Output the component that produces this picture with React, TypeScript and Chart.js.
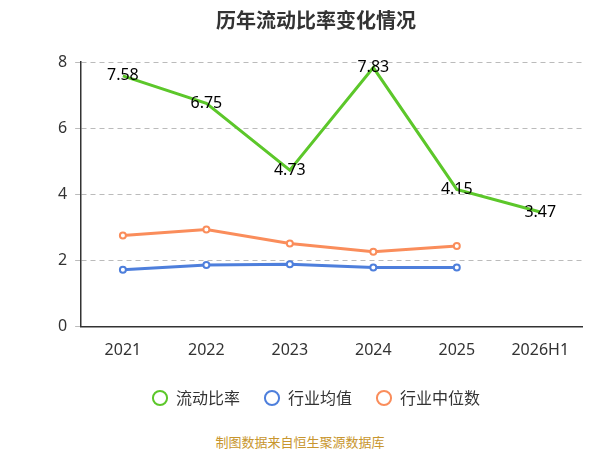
import React, { useEffect, useRef } from "react";
import { Chart, registerables } from "chart.js";
Chart.register(...registerables);

const categories = ["2021", "2022", "2023", "2024", "2025", "2026H1"];
const currentRatio = [7.58, 6.75, 4.73, 7.83, 4.15, 3.47];
const industryMean = [1.72, 1.87, 1.89, 1.79, 1.79, null];
const industryMedian = [2.76, 2.94, 2.52, 2.27, 2.44, null];

const labelPlugin = {
  id: "labels",
  afterDatasetsDraw(chart: any) {
    const ctx = chart.ctx;
    const meta = chart.getDatasetMeta(0);
    ctx.save();
    ctx.font = "16px 'Noto Sans', sans-serif";
    ctx.fillStyle = "#000";
    ctx.textAlign = "center";
    ctx.textBaseline = "middle";
    meta.data.forEach((pt: any, i: number) => {
      ctx.fillText(currentRatio[i].toFixed(2), pt.x, pt.y);
    });
    ctx.restore();
  },
};

export default function App() {
  const ref = useRef<HTMLCanvasElement>(null);
  useEffect(() => {
    const chart = new Chart(ref.current!, {
      type: "line",
      data: {
        labels: categories,
        datasets: [
          { label: "流动比率", data: currentRatio, borderColor: "#5cc72a", backgroundColor: "#fff", borderWidth: 3, pointRadius: 0, pointHoverRadius: 0 },
          { label: "行业均值", data: industryMean, borderColor: "#4e7fdc", backgroundColor: "#fff", borderWidth: 3, pointRadius: 3, pointBorderWidth: 2 },
          { label: "行业中位数", data: industryMedian, borderColor: "#fa8d5b", backgroundColor: "#fff", borderWidth: 3, pointRadius: 3, pointBorderWidth: 2 },
        ],
      },
      options: {
        animation: false,
        responsive: false,
        layout: { padding: { left: 42, right: 10, top: 0, bottom: 4 } },
        plugins: {
          title: { display: true, text: "历年流动比率变化情况", font: { size: 20, weight: "bold", family: "'Noto Sans CJK SC', sans-serif" }, color: "#333", padding: { top: 0, bottom: 30 } },
          legend: {
            position: "bottom",
            labels: { usePointStyle: true, pointStyle: "circle", boxWidth: 40, boxHeight: 10, padding: 24, font: { size: 16, family: "'Noto Sans CJK SC', sans-serif" }, color: "#333",
              generateLabels: (c: any) => c.data.datasets.map((d: any, i: number) => ({ text: d.label, fillStyle: "#fff", strokeStyle: d.borderColor, lineWidth: 2, pointStyle: "circle", datasetIndex: i, fontColor: "#333" })) },
          },
          tooltip: { enabled: false },
        },
        scales: {
          x: { offset: true, grid: { display: false }, border: { color: "#333", width: 1.5 }, ticks: { font: { size: 16, family: "'Noto Sans', sans-serif" }, color: "#333", padding: 6 } },
          y: { min: 0, max: 8, ticks: { stepSize: 2, font: { size: 16, family: "'Noto Sans', sans-serif" }, color: "#333", padding: 8 }, border: { color: "#333", width: 1.5, display: true, dash: [5, 4] }, grid: { color: "#bbb", tickLength: 6 } },
        },
      } as any,
      plugins: [labelPlugin],
    });
    return () => chart.destroy();
  }, []);
  return (
    <div style={{ position: "relative", width: 584, height: 442 }}>
      <canvas ref={ref} width={584} height={412} />
      <div style={{ position: "absolute", top: 424, width: 584, textAlign: "center", fontSize: 13, color: "#c8962e", fontFamily: "'Noto Sans CJK SC', sans-serif" }}>制图数据来自恒生聚源数据库</div>
    </div>
  );
}
